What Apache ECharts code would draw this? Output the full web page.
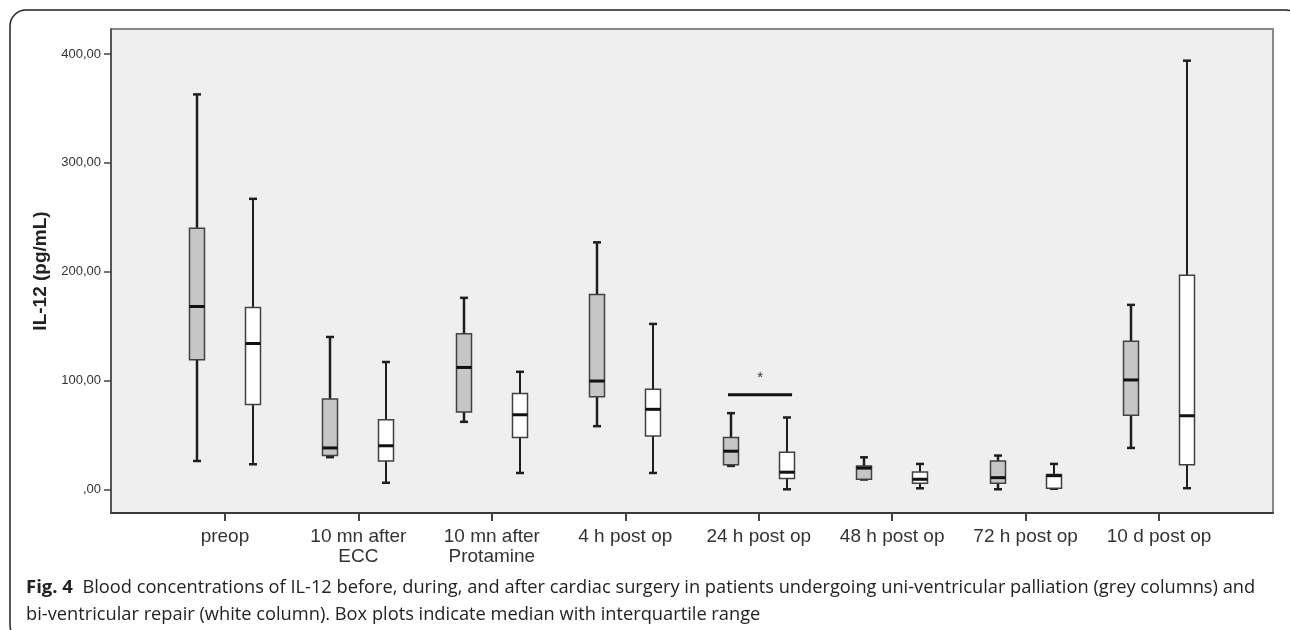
<!DOCTYPE html>
<html>
<head>
<meta charset="utf-8">
<title>IL-12</title>
<script src="https://cdn.jsdelivr.net/npm/echarts@6.0.0/dist/echarts.min.js"></script>
<style>
    html, body { margin: 0; padding: 0; background: #fff; }
    #main { width: 1290px; height: 630px; }
</style>
</head>
<body>
<div id="main"></div>
<script>
// categories on the x axis
var categories = ['preop', '10 mn after\nECC', '10 mn after\nProtamine', '4 h post op',
    '24 h post op', '48 h post op', '72 h post op', '10 d post op'];

// [min, Q1, median, Q3, max] per time point
var uniVentricular = [
    [26, 119, 168, 240, 363],
    [29.5, 31, 38, 83, 140],
    [62, 71, 112, 143, 176],
    [58, 85, 99.5, 179, 227],
    [21.5, 22.5, 35, 47.5, 70],
    [9, 9.2, 19.5, 21.4, 29.4],
    [0, 5.5, 10.7, 26, 31],
    [38, 68, 100.5, 136, 169.5]
];
var biVentricular = [
    [23, 78, 134, 167, 267],
    [6, 26, 40, 64, 117],
    [15, 47.5, 68.5, 88, 108],
    [15, 49, 73.5, 92, 152],
    [0, 10, 15.7, 34, 66],
    [0.9, 5.5, 9.2, 16, 23.3],
    [0.5, 0.9, 12.5, 13.5, 23.3],
    [1, 22.6, 67.6, 196.7, 394]
];

var yTickValues = [0, 100, 200, 300, 400];
var yTickLabels = [',00', '100,00', '200,00', '300,00', '400,00'];

// 24 h significance bar and star
var sigBarX = [3.77, 4.25];
var sigBarY = 87;
var sigStar = [4.01, 102];

var xTickValues = categories.map(function (c, i) { return i; });

var chart = echarts.init(document.getElementById('main'));

function boxData(stats, offset) {
    return stats.map(function (s, i) {
        return [i + offset].concat(s);
    });
}

function renderBox(params, api) {
    var x = api.value(0);
    var grey = params.seriesIndex === 0;
    var pMin = api.coord([x, api.value(1)]);
    var pQ1 = api.coord([x, api.value(2)]);
    var pMed = api.coord([x, api.value(3)]);
    var pQ3 = api.coord([x, api.value(4)]);
    var pMax = api.coord([x, api.value(5)]);
    var cx = Math.round(pMin[0]);
    var hw = 7.5, cw = 4;
    var wStroke = '#1e1e1e';
    var wWidth = grey ? 2.5 : 2;
    return {
        type: 'group',
        children: [
            { type: 'line', shape: { x1: cx, y1: pMax[1], x2: cx, y2: pMin[1] }, style: { stroke: wStroke, lineWidth: wWidth } },
            { type: 'line', shape: { x1: cx - cw, y1: pMax[1], x2: cx + cw, y2: pMax[1] }, style: { stroke: wStroke, lineWidth: 2.5 } },
            { type: 'line', shape: { x1: cx - cw, y1: pMin[1], x2: cx + cw, y2: pMin[1] }, style: { stroke: wStroke, lineWidth: 2.5 } },
            { type: 'rect', shape: { x: cx - hw, y: pQ3[1], width: hw * 2, height: pQ1[1] - pQ3[1] },
                style: { fill: grey ? '#c6c6c6' : '#ffffff', stroke: '#404040', lineWidth: 1.5 } },
            { type: 'line', shape: { x1: cx - hw, y1: pMed[1], x2: cx + hw, y2: pMed[1] }, style: { stroke: '#111', lineWidth: 3 } }
        ]
    };
}

function renderSig(params, api) {
    var a = api.coord([api.value(0), api.value(2)]);
    var b = api.coord([api.value(1), api.value(2)]);
    var s = api.coord([api.value(3), api.value(4)]);
    return {
        type: 'group',
        children: [
            { type: 'line', shape: { x1: a[0], y1: a[1], x2: b[0], y2: b[1] }, style: { stroke: '#111', lineWidth: 3 } },
            { type: 'text', x: s[0], y: s[1], style: { text: '*', fontSize: 15, fontFamily: 'Liberation Sans, Arial', fill: '#333', align: 'center', verticalAlign: 'middle' } }
        ]
    };
}

option = {
    backgroundColor: '#ffffff',
    animation: false,
    title: {
        left: 26,
        top: 574,
        padding: 0,
        text: '{b|Fig. 4}  Blood concentrations of IL-12 before, during, and after cardiac surgery in patients undergoing uni-ventricular palliation (grey columns) and\nbi-ventricular repair (white column). Box plots indicate median with interquartile range',
        textStyle: {
            fontFamily: 'Open Sans',
            fontWeight: 'normal',
            fontSize: 18.25,
            lineHeight: 27,
            color: '#222',
            rich: {
                b: { fontFamily: 'Open Sans', fontWeight: 'bold', fontSize: 18.5, color: '#222', lineHeight: 27 }
            }
        }
    },
    graphic: [
        {
            type: 'rect',
            shape: { x: 10, y: 10, width: 1292, height: 631, r: 16 },
            style: { fill: 'none', stroke: '#222', lineWidth: 1.5 },
            z: 100
        }
    ],
    grid: {
        left: 111,
        right: 17,
        top: 29,
        bottom: 117,
        show: true,
        backgroundColor: '#efefef',
        borderColor: '#888',
        borderWidth: 2,
        outerBoundsMode: 'none'
    },
    xAxis: {
        type: 'value',
        min: -0.854,
        max: 7.854,
        splitLine: { show: false },
        axisLine: { show: true, onZero: false, lineStyle: { color: '#3a3a3a', width: 2 } },
        axisTick: { show: true, customValues: xTickValues, length: 8, lineStyle: { color: '#444', width: 2 } },
        axisLabel: {
            customValues: xTickValues,
            formatter: function (v) { return categories[Math.round(v)]; },
            fontFamily: 'Liberation Sans, Arial',
            fontSize: 19,
            lineHeight: 20,
            color: '#333',
            margin: 14
        }
    },
    yAxis: {
        type: 'value',
        min: -21.8,
        max: 423.1,
        name: 'IL-12 (pg/mL)',
        nameLocation: 'middle',
        nameGap: 60,
        nameTextStyle: { fontFamily: 'Liberation Sans, Arial', fontWeight: 'bold', fontSize: 19, color: '#222' },
        splitLine: { show: false },
        axisLine: { show: true, onZero: false, lineStyle: { color: '#444', width: 1.5 } },
        axisTick: { show: true, customValues: yTickValues, length: 7, lineStyle: { color: '#444', width: 1.5 } },
        axisLabel: {
            customValues: yTickValues,
            formatter: function (v) { return yTickLabels[yTickValues.indexOf(Math.round(v))]; },
            fontFamily: 'Liberation Sans, Arial',
            fontSize: 13,
            color: '#333',
            margin: 10
        }
    },
    series: [
        {
            name: 'uni-ventricular',
            type: 'custom',
            renderItem: renderBox,
            encode: { x: 0, y: [1, 2, 3, 4, 5] },
            data: boxData(uniVentricular, -0.21)
        },
        {
            name: 'bi-ventricular',
            type: 'custom',
            renderItem: renderBox,
            encode: { x: 0, y: [1, 2, 3, 4, 5] },
            data: boxData(biVentricular, 0.21)
        },
        {
            name: 'significance',
            type: 'custom',
            renderItem: renderSig,
            encode: { x: [0, 1, 3], y: [2, 4] },
            data: [[sigBarX[0], sigBarX[1], sigBarY, sigStar[0], sigStar[1]]]
        }
    ]
};

chart.setOption(option);
</script>
</body>
</html>
